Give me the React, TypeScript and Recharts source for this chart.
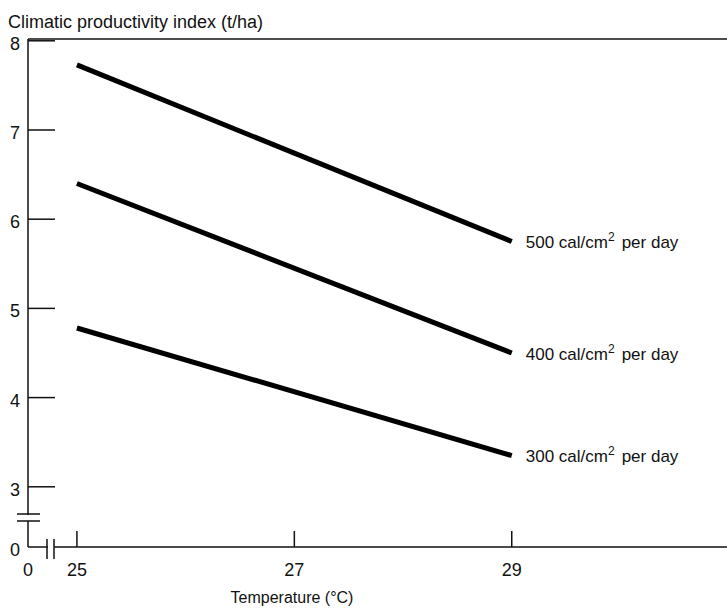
import React from 'react';
import { LineChart, Line, XAxis, YAxis, ReferenceLine } from 'recharts';

// temperature (°C) at the two ends of each line
const temps = [25, 29];
// climatic productivity index (t/ha) per radiation level
const cpi500 = [7.73, 5.75];
const cpi400 = [6.4, 4.5];
const cpi300 = [4.78, 3.35];
const radiation = ['500', '400', '300'];

const xTicks = [25, 27, 29];
const yTicks = [3, 4, 5, 6, 7, 8];

// axis is broken: "0" sits just below 3 on y and just left of 25 on x
const X_MIN = 24.55;
const X_MAX = 30.98;
const Y_MIN = 2.325;
const Y_MAX = 8.02;

const FONT = '"Liberation Sans", Arial, Helvetica, sans-serif';

const data = temps.map((t, i) => ({
  temp: t,
  r500: cpi500[i],
  r400: cpi400[i],
  r300: cpi300[i],
}));

const YTick = (props: any) => {
  const { x, y, payload } = props;
  const isZero = payload.value === Y_MIN;
  return (
    <g>
      {!isZero && <line x1={x} x2={x + 27} y1={y} y2={y} stroke="#111" strokeWidth={1.5} />}
      {isZero && (
        <g>
          <rect x={x - 3} y={y - 32} width={6} height={6} fill="#fff" />
          <line x1={x - 11} x2={x + 12} y1={y - 33} y2={y - 33} stroke="#111" strokeWidth={1.5} />
          <line x1={x - 11} x2={x + 12} y1={y - 26} y2={y - 26} stroke="#111" strokeWidth={1.5} />
        </g>
      )}
      <text x={x - 8} y={y} dy="0.5em" textAnchor="end" fontSize={18} fontFamily={FONT} fill="#111">
        {isZero ? '0' : payload.value}
      </text>
    </g>
  );
};

const XTick = (props: any) => {
  const { x, y, payload } = props;
  const isZero = payload.value === X_MIN;
  return (
    <g>
      {!isZero && <line x1={x} x2={x} y1={y} y2={y - 16} stroke="#111" strokeWidth={1.5} />}
      {isZero && (
        <g>
          <rect x={x + 20} y={y - 3} width={6} height={6} fill="#fff" />
          <line x1={x + 19} x2={x + 19} y1={y - 8} y2={y + 12} stroke="#111" strokeWidth={1.5} />
          <line x1={x + 26} x2={x + 26} y1={y - 8} y2={y + 12} stroke="#111" strokeWidth={1.5} />
        </g>
      )}
      <text x={x} y={y + 16} dy="0.71em" textAnchor="middle" fontSize={18} fontFamily={FONT} fill="#111">
        {isZero ? '0' : payload.value}
      </text>
    </g>
  );
};

const endLabel = (level: string) => (props: any) => {
  const { x, y, index } = props;
  if (index !== temps.length - 1) return null;
  return (
    <text x={x + 14} y={y} dy="0.4em" fontSize={17} fontFamily={FONT} fill="#111">
      {level} cal/cm
      <tspan dy={-7} fontSize={12}>2</tspan>
      <tspan dy={7} dx={7}>per day</tspan>
    </text>
  );
};

export default function App() {
  const keys = ['r500', 'r400', 'r300'];
  return (
    <div style={{ position: 'absolute', left: 0, top: 0, width: 727, height: 609, background: '#fff' }}>
      <div
        style={{
          position: 'absolute',
          left: 8,
          top: 12,
          fontSize: 18,
          fontFamily: FONT,
          color: '#111',
          lineHeight: '20px',
          whiteSpace: 'nowrap',
        }}
      >
        Climatic productivity index (t/ha)
      </div>
      <div
        style={{
          position: 'absolute',
          left: 0,
          width: 584,
          top: 588,
          textAlign: 'center',
          fontSize: 16,
          fontFamily: FONT,
          color: '#111',
          lineHeight: '20px',
        }}
      >
        Temperature (°C)
      </div>
      <LineChart width={727} height={609} data={data} margin={{ top: 39, right: 0, left: 0, bottom: 0 }}>
        <XAxis
          dataKey="temp"
          type="number"
          domain={[X_MIN, X_MAX]}
          ticks={[X_MIN, ...xTicks]}
          allowDataOverflow
          height={62}
          tickSize={0}
          tickMargin={0}
          tickLine={false}
          axisLine={{ stroke: '#111', strokeWidth: 1.5 }}
          tick={<XTick />}
          interval={0}
        />
        <YAxis
          type="number"
          domain={[Y_MIN, Y_MAX]}
          ticks={[Y_MIN, ...yTicks]}
          allowDataOverflow
          width={28}
          tickSize={0}
          tickMargin={0}
          tickLine={false}
          axisLine={{ stroke: '#111', strokeWidth: 1.5 }}
          tick={<YTick />}
          interval={0}
        />
        <ReferenceLine y={Y_MAX} stroke="#111" strokeWidth={1.5} />
        {keys.map((k, i) => (
          <Line
            key={k}
            type="linear"
            dataKey={k}
            stroke="#000"
            strokeWidth={5}
            dot={false}
            activeDot={false}
            isAnimationActive={false}
            label={endLabel(radiation[i])}
          />
        ))}
      </LineChart>
    </div>
  );
}
